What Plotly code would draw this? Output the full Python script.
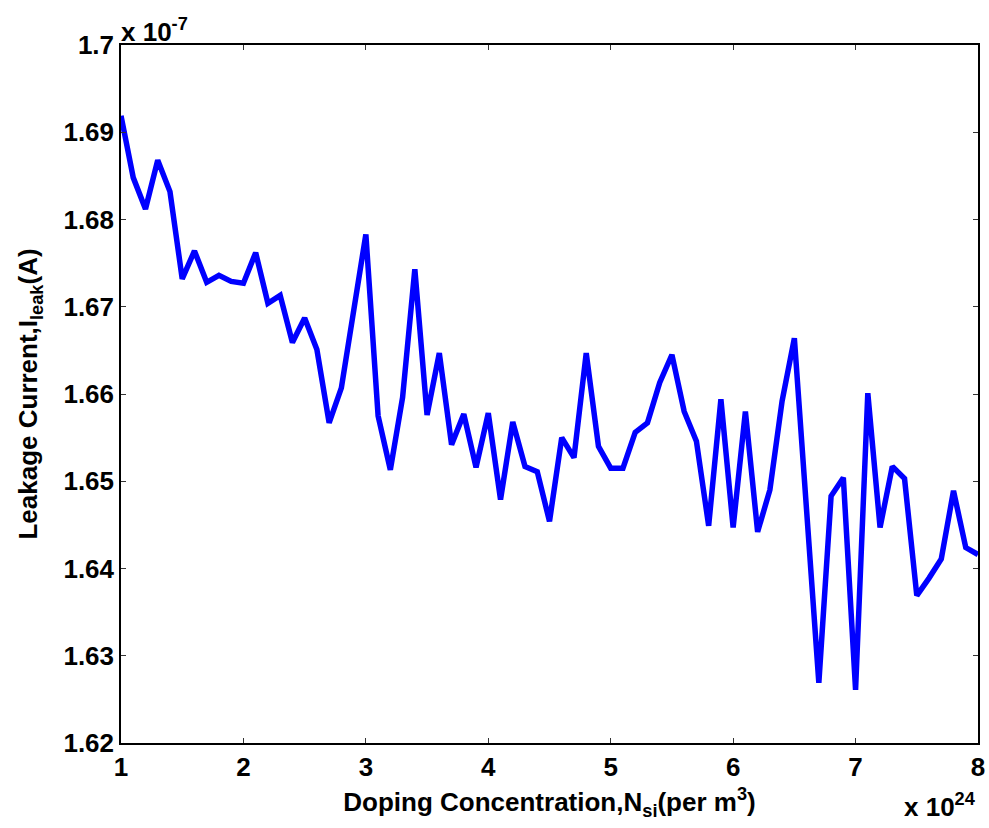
import plotly.graph_objects as go

# Doping concentration, in units of 1e24 per m^3
doping_e24 = [round(1.0 + 0.1 * k, 1) for k in range(71)]

# Leakage current, in units of 1e-7 A
leak_e7 = [
    1.6919, 1.6848, 1.6812, 1.6868, 1.6832, 1.6732, 1.6764, 1.6728, 1.6736, 1.6729,
    1.6727, 1.6762, 1.6704, 1.6713, 1.6659, 1.6687, 1.6651, 1.6567, 1.6607, 1.6693,
    1.6783, 1.6575, 1.6513, 1.6596, 1.6743, 1.6576, 1.6647, 1.6542, 1.6577, 1.6516,
    1.6578, 1.6479, 1.6568, 1.6517, 1.6511, 1.6454, 1.6550, 1.6527, 1.6647, 1.6540,
    1.6515, 1.6515, 1.6556, 1.6567, 1.6613, 1.6645, 1.6580, 1.6546, 1.6449, 1.6594,
    1.6447, 1.6580, 1.6442, 1.6490, 1.6592, 1.6664, 1.6472, 1.6269, 1.6483, 1.6504,
    1.6261, 1.6601, 1.6447, 1.6517, 1.6503, 1.6369, 1.6389, 1.6411, 1.6489, 1.6424,
    1.6416,
]

x_ticks = [1, 2, 3, 4, 5, 6, 7, 8]
x_ticklabels = ["1", "2", "3", "4", "5", "6", "7", "8"]
y_ticks = [1.62, 1.63, 1.64, 1.65, 1.66, 1.67, 1.68, 1.69, 1.70]
y_ticklabels = ["1.62", "1.63", "1.64", "1.65", "1.66", "1.67", "1.68", "1.69", "1.7"]

FONT = "Liberation Sans, Arial, Helvetica, sans-serif"
FS = 26

fig = go.Figure()
fig.add_trace(go.Scatter(
    x=doping_e24, y=leak_e7, mode="lines",
    line=dict(color="#0000FF", width=5.5),
    showlegend=False,
))

axis_common = dict(
    showgrid=False, zeroline=False,
    showline=True, linecolor="black", linewidth=1.5, mirror="ticks",
    ticks="inside", ticklen=5, tickwidth=1, tickcolor="#333333",
    tickfont=dict(family=FONT, size=FS, color="black", weight="bold"),
)

fig.update_xaxes(
    range=[1, 8], tickvals=x_ticks, ticktext=x_ticklabels,
    title=dict(text="Doping Concentration,N<sub>si</sub>(per m<sup>3</sup>)",
               font=dict(family=FONT, size=FS, color="black", weight="bold"),
               standoff=12),
    **axis_common,
)
fig.update_yaxes(
    range=[1.62, 1.70], tickvals=y_ticks, ticktext=y_ticklabels,
    title=dict(text="Leakage Current,I<sub>leak</sub>(A)",
               font=dict(family=FONT, size=FS, color="black", weight="bold"),
               standoff=18),
    **axis_common,
)

fig.add_annotation(
    text="x 10<sup>-7</sup>", xref="paper", yref="paper", x=0, y=1,
    xanchor="left", yanchor="bottom", showarrow=False, xshift=-2, yshift=-4,
    font=dict(family=FONT, size=FS, color="black", weight="bold"),
)
fig.add_annotation(
    text="x 10<sup>24</sup>", xref="paper", yref="paper", x=1, y=0,
    xanchor="right", yanchor="top", showarrow=False, yshift=-44,
    font=dict(family=FONT, size=FS, color="black", weight="bold"),
)

fig.update_layout(
    width=989, height=828,
    margin=dict(l=121, r=11, t=45, b=85, autoexpand=False),
    paper_bgcolor="white", plot_bgcolor="white",
)

fig.write_html("out.html")
